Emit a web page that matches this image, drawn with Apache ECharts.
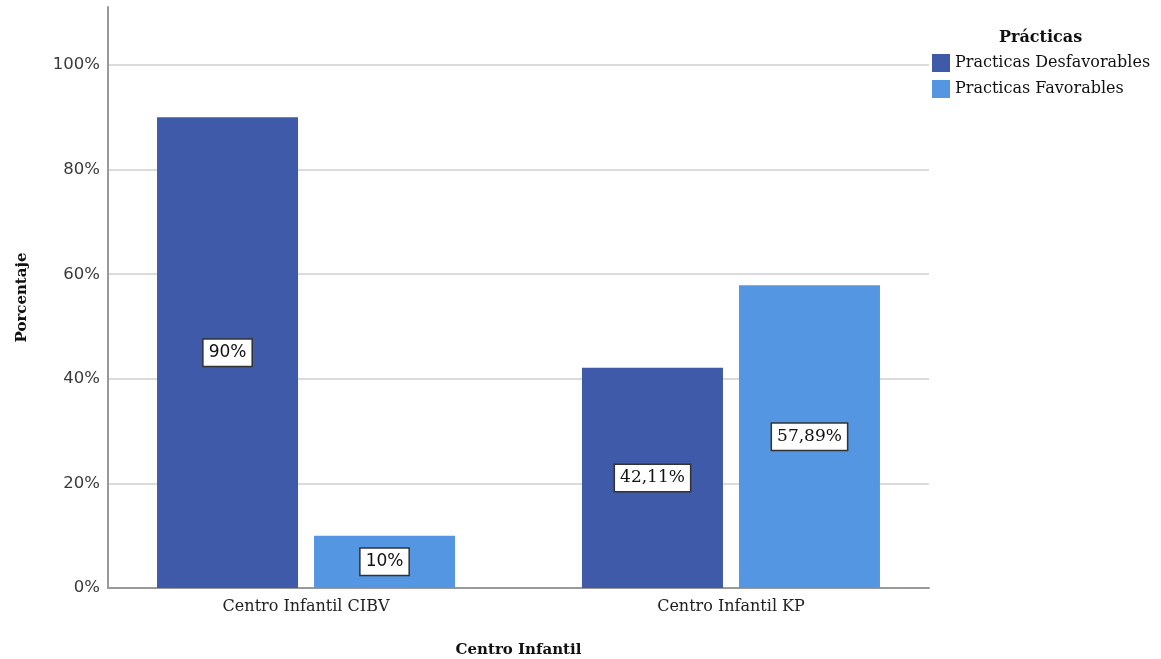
<!DOCTYPE html>
<html>
<head>
<meta charset="utf-8">
<script src="https://cdn.jsdelivr.net/npm/echarts@6/dist/echarts.min.js"></script>
<style>
html,body{margin:0;padding:0;background:#fff;}
#chart{width:1161px;height:659px;}
</style>
</head>
<body>
<div id="chart"></div>
<script>
// ---- data ----
var categories = ['Centro Infantil CIBV', 'Centro Infantil KP'];
var seriesNames = ['Practicas Desfavorables', 'Practicas Favorables'];
var desfavorables = [90, 42.11];
var favorables = [10, 57.89];
var labelTexts = [['90%', '42,11%'], ['10%', '57,89%']];
var yTicks = [0, 20, 40, 60, 80, 100];

// ---- chart ----
var colors = ['#3E5AA8', '#5596E3'];
var labelFonts = ['DejaVu Sans', 'DejaVu Serif'];

function buildData(values) {
  return values.map(function (v, i) {
    return {
      value: [i, v],
      label: { fontFamily: labelFonts[i] }
    };
  });
}

function makeSeries(name, values, sIdx) {
  return {
    name: name,
    type: 'bar',
    data: buildData(values),
    barWidth: 141,
    barGap: '11.35%',
    itemStyle: { color: colors[sIdx] },
    label: {
      show: true,
      position: 'inside',
      formatter: function (p) { return labelTexts[sIdx][p.dataIndex]; },
      color: '#111',
      fontSize: 17,
      backgroundColor: '#fff',
      borderColor: '#333',
      borderWidth: 1.5,
      padding: [5, 5, 4, 5]
    },
    emphasis: { disabled: true }
  };
}

var chart = echarts.init(document.getElementById('chart'), null, { renderer: 'canvas' });
chart.setOption({
  animation: false,
  backgroundColor: '#fff',
  title: {
    text: 'Prácticas',
    left: 999,
    top: 30,
    padding: 0,
    textStyle: { fontFamily: 'DejaVu Serif', fontWeight: 'bold', fontSize: 16, color: '#111' }
  },
  legend: {
    data: seriesNames,
    orient: 'vertical',
    left: 932,
    top: 54,
    padding: 0,
    itemWidth: 18,
    itemHeight: 18,
    itemGap: 8,
    icon: 'rect',
    textStyle: { fontFamily: 'DejaVu Serif', fontSize: 16, color: '#111' }
  },
  grid: { left: 108, right: 232, top: 7, bottom: 71, containLabel: false, outerBoundsMode: 'none' },
  xAxis: {
    type: 'value',
    min: -0.466,
    max: 1.466,
    name: 'Centro Infantil',
    nameLocation: 'middle',
    nameGap: 55,
    nameTextStyle: { fontFamily: 'DejaVu Serif', fontWeight: 'bold', fontSize: 15, color: '#111' },
    axisLine: { show: true, onZero: false, lineStyle: { color: '#999', width: 2 } },
    axisTick: { show: false },
    splitLine: { show: false },
    axisLabel: {
      customValues: [0, 1],
      formatter: function (v) { return categories[Math.round(v)]; },
      fontFamily: 'DejaVu Serif',
      fontSize: 16,
      color: '#222',
      margin: 11
    }
  },
  yAxis: {
    type: 'value',
    min: 0,
    max: 111.1,
    interval: 20,
    name: 'Porcentaje',
    nameLocation: 'middle',
    nameGap: 78,
    nameRotate: 90,
    nameTextStyle: { fontFamily: 'DejaVu Serif', fontWeight: 'bold', fontSize: 15, color: '#111' },
    axisLine: { show: true, onZero: false, lineStyle: { color: '#999', width: 2 } },
    axisTick: { show: false },
    splitLine: { show: true, showMinLine: false, showMaxLine: false, lineStyle: { color: '#cfcfcf', width: 1.5 } },
    axisLabel: {
      showMaxLabel: false,
      formatter: function (v) { return yTicks.indexOf(v) >= 0 ? v + '%' : ''; },
      fontFamily: 'DejaVu Sans',
      fontSize: 16.5,
      color: '#3a3a3a',
      margin: 8
    }
  },
  series: [
    makeSeries(seriesNames[0], desfavorables, 0),
    makeSeries(seriesNames[1], favorables, 1)
  ]
});
</script>
</body>
</html>
